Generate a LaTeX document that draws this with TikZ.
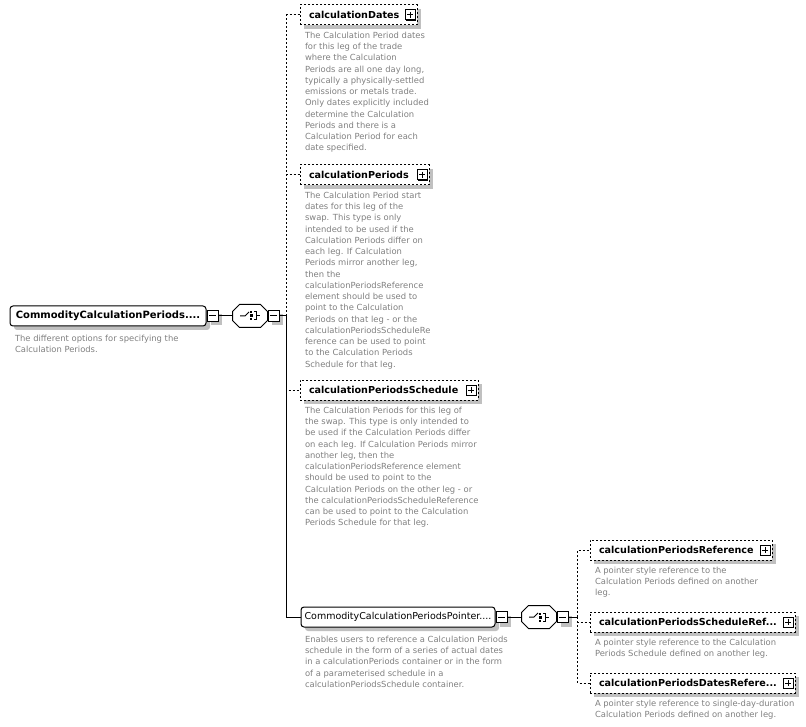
\documentclass[tikz,border=0pt]{standalone}
\usepackage{fontspec}
\setmainfont{DejaVu Sans}
\usetikzlibrary{positioning}
\definecolor{XsdGray}{HTML}{808080}
\definecolor{XsdShade}{HTML}{C0C0C0}
\newcommand{\labfont}{\fontsize{9.6}{11}\selectfont\bfseries}
\newcommand{\rootfont}{\fontsize{10}{11}\selectfont\bfseries}
\newcommand{\regfont}{\fontsize{9.5}{11}\selectfont}
\newcommand{\descfont}{\fontsize{8.4}{11.25}\selectfont}
% octagon outline round a compositor node
\newcommand{\octpath}[1]{([xshift=7pt]#1.north west) -- ([xshift=-7pt]#1.north east) -- ([yshift=-7pt]#1.north east) -- ([yshift=7pt]#1.south east) -- ([xshift=-7pt]#1.south east) -- ([xshift=7pt]#1.south west) -- ([yshift=7pt]#1.south west) -- ([yshift=-7pt]#1.north west) -- cycle}

\begin{document}
\begin{tikzpicture}[x=1pt,y=-1pt,line width=1pt,
    every node/.style={inner sep=0pt},
    shade/.style={preaction={fill=XsdShade,draw=none,transform canvas={shift={(4pt,-4pt)}}}},
    dashline/.style={dash pattern=on 2pt off 2pt},
    elem/.style={rectangle,rounded corners=3pt,draw,fill=white,minimum height=20pt,shade},
    opt/.style={rectangle,draw,dashline,fill=white,minimum height=20pt,align=left,text width=#1,inner xsep=9pt,font=\labfont,shade},
    choice/.style={rectangle,minimum width=34pt,minimum height=22pt,
      append after command={\pgfextra{
        \fill[XsdShade,shift={(4pt,-4pt)}] \octpath{\tikzlastnode};
        \filldraw[fill=white] \octpath{\tikzlastnode};
        \draw ([xshift=-10pt]\tikzlastnode.center) -- ([xshift=-5pt]\tikzlastnode.center) -- ([xshift=-1pt,yshift=4pt]\tikzlastnode.center);
        \fill ([yshift=4.5pt]\tikzlastnode.center) rectangle ([xshift=2pt,yshift=2.5pt]\tikzlastnode.center);
        \fill ([yshift=1.5pt]\tikzlastnode.center) rectangle ([xshift=2.5pt,yshift=-1.5pt]\tikzlastnode.center);
        \fill ([yshift=-2.5pt]\tikzlastnode.center) rectangle ([xshift=2pt,yshift=-4.5pt]\tikzlastnode.center);
        \draw ([xshift=4pt,yshift=4pt]\tikzlastnode.center) -| ([xshift=6pt,yshift=-4pt]\tikzlastnode.center) -- ([xshift=4pt,yshift=-4pt]\tikzlastnode.center);
        \draw ([xshift=6pt]\tikzlastnode.center) -- ([xshift=10pt]\tikzlastnode.center);}}},
    minusbox/.style={rectangle,draw,solid,fill=white,minimum size=11pt,shade,
      path picture={\draw ([xshift=2pt]path picture bounding box.west) -- ([xshift=-2pt]path picture bounding box.east);}},
    plusbox/.style={rectangle,draw,solid,fill=white,minimum size=10pt,
      preaction={fill=black,transform canvas={shift={(1pt,-1pt)}}},
      path picture={\draw ([xshift=2pt]path picture bounding box.west) -- ([xshift=-2pt]path picture bounding box.east);
        \draw ([yshift=-2pt]path picture bounding box.north) -- ([yshift=2pt]path picture bounding box.south);}},
    desc/.style={align=left,text=XsdGray,font=\descfont}]
  \useasboundingbox (0,0) rectangle (806,727);

  % root and its choice
  \node[elem,font=\rootfont,minimum width=196pt] (root) at (108,316) {CommodityCalculationPeriods....};
  \node[minusbox,right=0pt of root] (rootminus) {};
  \node[choice,right=14pt of rootminus] (choice1) {};
  \node[minusbox,right=0pt of choice1] (c1minus) {};
  \coordinate[right=7pt of c1minus] (bus1);
  \node[desc,below right=8pt and 5pt of root.south west] (rootdesc) {The different options for specifying the\\Calculation Periods.};

  % options of the choice
  \node[opt=99pt] (dates) at (358.5,15) {calculationDates};
  \node[opt=111pt] (periods) at (364.5,175) {calculationPeriods};
  \node[opt=160pt] (schedule) at (389,390) {calculationPeriodsSchedule};
  \node[elem,font=\regfont,minimum width=194pt] (pointer) at (398,617) {CommodityCalculationPeriodsPointer....};
  \node[minusbox,right=0pt of pointer] (pminus) {};
  \node[choice,right=14pt of pminus] (choice2) {};
  \node[minusbox,right=0pt of choice2] (c2minus) {};
  \coordinate[right=9pt of c2minus] (bus2);

  \node[opt=164pt] (ref) at (681,550) {calculationPeriodsReference};
  \node[opt=187pt] (schedref) at (692.5,622) {calculationPeriodsScheduleRef...};
  \node[opt=187pt] (datesref) at (692.5,683) {calculationPeriodsDatesRefere...};
  \foreach \n in {dates,periods,schedule,ref,schedref,datesref}
    \node[plusbox,left=2pt of \n.east] (\n plus) {};

  \node[desc,below right=6pt and 5pt of dates.south west] (datesdesc) {The Calculation Period dates\\for this leg of the trade\\where the Calculation\\Periods are all one day long,\\typically a physically-settled\\emissions or metals trade.\\Only dates explicitly included\\determine the Calculation\\Periods and there is a\\Calculation Period for each\\date specified.};
  \node[desc,below right=6pt and 5pt of periods.south west] (periodsdesc) {The Calculation Period start\\dates for this leg of the\\swap. This type is only\\intended to be used if the\\Calculation Periods differ on\\each leg. If Calculation\\Periods mirror another leg,\\then the\\calculationPeriodsReference\\element should be used to\\point to the Calculation\\Periods on that leg - or the\\calculationPeriodsScheduleRe\\ference can be used to point\\to the Calculation Periods\\Schedule for that leg.};
  \node[desc,below right=6pt and 5pt of schedule.south west] (scheduledesc) {The Calculation Periods for this leg of\\the swap. This type is only intended to\\be used if the Calculation Periods differ\\on each leg. If Calculation Periods mirror\\another leg, then the\\calculationPeriodsReference element\\should be used to point to the\\Calculation Periods on the other leg - or\\the calculationPeriodsScheduleReference\\can be used to point to the Calculation\\Periods Schedule for that leg.};
  \node[desc,below right=8pt and 4pt of pointer.south west] (pointerdesc) {Enables users to reference a Calculation Periods\\schedule in the form of a series of actual dates\\in a calculationPeriods container or in the form\\of a parameterised schedule in a\\calculationPeriodsSchedule container.};
  \node[desc,below right=6pt and 5pt of ref.south west] (refdesc) {A pointer style reference to the\\Calculation Periods defined on another\\leg.};
  \node[desc,below right=6pt and 5pt of schedref.south west] (schedrefdesc) {A pointer style reference to the Calculation\\Periods Schedule defined on another leg.};
  \node[desc,below right=6pt and 5pt of datesref.south west] (datesrefdesc) {A pointer style reference to single-day-duration\\Calculation Periods defined on another leg.};

  % connectors
  \draw (rootminus) -- (choice1);
  \draw (c1minus) -- (bus1);
  \foreach \n in {dates,periods,schedule}
    \draw[dashline] (bus1) |- (\n);
  \draw (bus1) |- (pointer);
  \draw (pminus) -- (choice2);
  \draw (c2minus) -- (bus2);
  \foreach \n in {ref,schedref,datesref}
    \draw[dashline] (bus2) |- (\n);
\end{tikzpicture}
\end{document}
